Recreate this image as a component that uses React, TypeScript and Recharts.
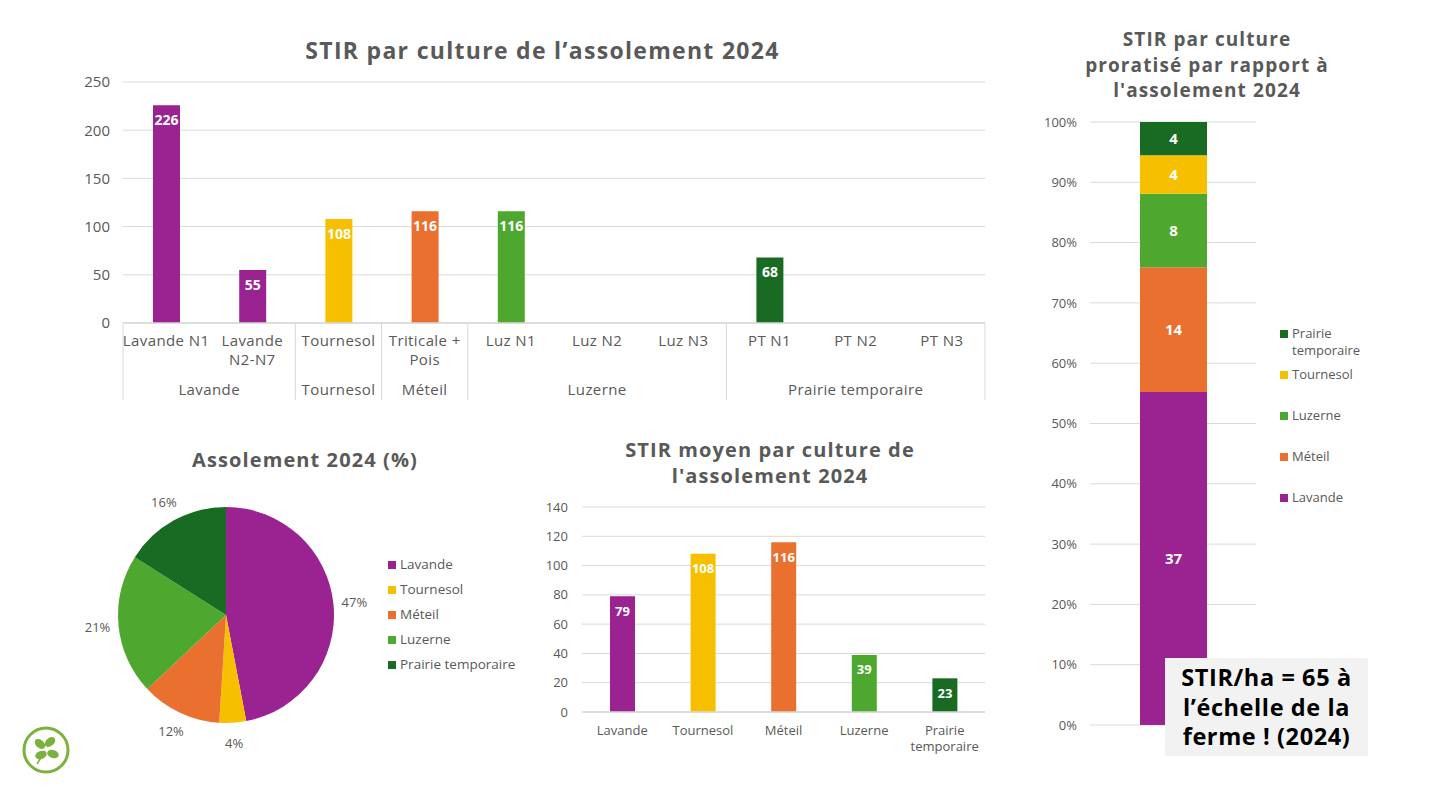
import React from "react"
import {
  Bar,
  BarChart,
  CartesianGrid,
  Cell,
  LabelList,
  Pie,
  PieChart,
  XAxis,
  YAxis,
} from "recharts"

// colours per culture
const PURPLE = "#9b2391"
const YELLOW = "#f6c000"
const ORANGE = "#e9702f"
const LGREEN = "#4ea72e"
const DGREEN = "#196b24"
const GRID = "#d9d9d9"
const TEXT = "#595959"
const FONT = "'Open Sans', sans-serif"

const cultureColors: Record<string, string> = {
  Lavande: PURPLE,
  Tournesol: YELLOW,
  "Méteil": ORANGE,
  Luzerne: LGREEN,
  "Prairie temporaire": DGREEN,
}

// STIR par culture de l'assolement 2024
const parcelleNames = [
  "Lavande N1",
  "Lavande N2-N7",
  "Tournesol",
  "Triticale + Pois",
  "Luz N1",
  "Luz N2",
  "Luz N3",
  "PT N1",
  "PT N2",
  "PT N3",
]
const parcelleGroups = [
  "Lavande",
  "Lavande",
  "Tournesol",
  "Méteil",
  "Luzerne",
  "Luzerne",
  "Luzerne",
  "Prairie temporaire",
  "Prairie temporaire",
  "Prairie temporaire",
]
const parcelleStir = [226, 55, 108, 116, 116, null, null, 68, null, null]
const parcelleTicks = [0, 50, 100, 150, 200, 250]

// Assolement 2024 (%)
const assolementCultures = ["Lavande", "Tournesol", "Méteil", "Luzerne", "Prairie temporaire"]
const assolementPct = [47, 4, 12, 21, 16]

// STIR moyen par culture
const moyenCultures = ["Lavande", "Tournesol", "Méteil", "Luzerne", "Prairie temporaire"]
const moyenStir = [79, 108, 116, 39, 23]
const moyenTicks = [0, 20, 40, 60, 80, 100, 120, 140]

// STIR proratisé (stack order bottom -> top), labels shown rounded
const prorataCultures = ["Lavande", "Méteil", "Luzerne", "Tournesol", "Prairie temporaire"]
const prorataValues = [37.1, 13.9, 8.2, 4.3, 3.7]
const prorataTicks = [0, 0.1, 0.2, 0.3, 0.4, 0.5, 0.6, 0.7, 0.8, 0.9, 1]

const parcelleData = parcelleNames.map((name, i) => ({
  name,
  group: parcelleGroups[i],
  stir: parcelleStir[i],
}))
const assolementData = assolementCultures.map((name, i) => ({ name, value: assolementPct[i] }))
const moyenData = moyenCultures.map((name, i) => ({ name, stir: moyenStir[i] }))
const prorataData = [
  Object.fromEntries([["name", "2024"], ...prorataCultures.map((c, i) => [c, prorataValues[i]])]),
]

const wrap = (s: string, max: number) => {
  const lines: string[] = []
  let cur = ""
  for (const w of s.split(" ")) {
    const next = cur ? cur + " " + w : w
    if (next.length > max && cur) {
      lines.push(cur)
      cur = w
    } else cur = next
  }
  if (cur) lines.push(cur)
  return lines
}

// top chart geometry
const TOP_W = 930
const TOP_H = 340
const TOP_MARGIN = { top: 12, right: 15, left: 0, bottom: 0 }
const TOP_YW = 53
const topBand = (TOP_W - TOP_MARGIN.left - TOP_MARGIN.right - TOP_YW) / parcelleNames.length

const ParcelleTick = (props: any) => {
  const { x, y, payload, index } = props
  const lines = wrap(String(payload.value), 11)
  const grp = parcelleGroups[index]
  const first = index === 0 || parcelleGroups[index - 1] !== grp
  const last = index === parcelleGroups.length - 1
  const span = parcelleGroups.filter((g) => g === grp).length
  return (
    <g fontFamily={FONT} fontSize={15} fill={TEXT} letterSpacing={0.4}>
      {lines.map((l, i) => (
        <text key={i} x={x} y={y + 18 + i * 19} textAnchor="middle" dy="0.35em" fill={TEXT}>
          {l}
        </text>
      ))}
      {first && (
        <>
          <line x1={x - topBand / 2} x2={x - topBand / 2} y1={y} y2={y + 77} stroke={GRID} />
          <text x={x + ((span - 1) * topBand) / 2} y={y + 67} textAnchor="middle" dy="0.35em" fill={TEXT}>
            {grp}
          </text>
        </>
      )}
      {last && <line x1={x + topBand / 2} x2={x + topBand / 2} y1={y} y2={y + 77} stroke={GRID} />}
    </g>
  )
}

const MoyenTick = (props: any) => {
  const { x, y, payload } = props
  const lines = wrap(String(payload.value), 11)
  return (
    <g>
      {lines.map((l, i) => (
        <text key={i} x={x} y={y + 18 + i * 16} textAnchor="middle" dy="0.35em" fontFamily={FONT} fontSize={13} fill={TEXT}>
          {l}
        </text>
      ))}
    </g>
  )
}

const insideTop = (offset: number, size: number) => (p: any) => {
  const vb = p.viewBox ?? p
  if (p.value == null || p.value === 0) return null
  return (
    <text
      x={vb.x + vb.width / 2}
      y={vb.y + offset}
      textAnchor="middle"
      dy="0.35em"
      fill="#ffffff"
      fontFamily={FONT}
      fontWeight={700}
      fontSize={size}
    >
      {p.value}
    </text>
  )
}

const centerLabel = (value: number) => (p: any) => {
  const vb = p.viewBox ?? p
  return (
    <text
      x={vb.x + vb.width / 2}
      y={vb.y + vb.height / 2}
      textAnchor="middle"
      dy="0.35em"
      fill="#ffffff"
      fontFamily={FONT}
      fontWeight={700}
      fontSize={15}
    >
      {Math.round(value)}
    </text>
  )
}

const RADIAN = Math.PI / 180
const pieLabel = (p: any) => {
  const r = p.outerRadius + 21
  const x = p.cx + r * Math.cos(-p.midAngle * RADIAN)
  const y = p.cy + r * Math.sin(-p.midAngle * RADIAN)
  return (
    <text x={x} y={y} textAnchor="middle" dy="0.35em" fontFamily={FONT} fontSize={13} fill={TEXT}>
      {`${p.value}%`}
    </text>
  )
}

const titleStyle: React.CSSProperties = {
  position: "absolute",
  fontFamily: FONT,
  fontWeight: 700,
  color: TEXT,
  textAlign: "center",
  whiteSpace: "nowrap",
}

const Legend = ({ items, left, top, gap, fontSize, wrapAt }: any) => (
  <div style={{ position: "absolute", left, top, fontFamily: FONT, fontSize, color: TEXT }}>
    {items.map((it: string) => (
      <div key={it} style={{ display: "flex", alignItems: "flex-start", height: gap, lineHeight: "17px" }}>
        <span
          style={{
            width: 8,
            height: 8,
            background: cultureColors[it],
            marginTop: 5,
            marginRight: 4,
            flex: "none",
          }}
        />
        <span style={{ maxWidth: wrapAt }}>{it}</span>
      </div>
    ))}
  </div>
)

export default function App() {
  return (
    <div
      style={{
        position: "absolute",
        left: 0,
        top: 0,
        width: 1437,
        height: 798,
        background: "#ffffff",
        overflow: "hidden",
      }}
    >
      {/* STIR par culture de l'assolement 2024 */}
      <div style={{ ...titleStyle, left: 70, width: 945, top: 34, fontSize: 23, letterSpacing: 1.3 }}>
        STIR par culture de l’assolement 2024
      </div>
      <div style={{ position: "absolute", left: 70, top: 70 }}>
        <BarChart width={TOP_W} height={TOP_H} data={parcelleData} margin={TOP_MARGIN}>
          <CartesianGrid vertical={false} stroke={GRID} />
          <XAxis
            dataKey="name"
            interval={0}
            tickLine={false}
            tickSize={0}
            tickMargin={0}
            axisLine={{ stroke: GRID, strokeWidth: 1.5 }}
            height={87}
            tick={ParcelleTick}
          />
          <YAxis
            domain={[0, 250]}
            ticks={parcelleTicks}
            width={TOP_YW}
            tickLine={false}
            axisLine={false}
            tickSize={0}
            tickMargin={13}
            tick={{ fill: TEXT, fontSize: 15, fontFamily: FONT }}
          />
          <Bar dataKey="stir" barSize={27} isAnimationActive={false}>
            {parcelleData.map((d) => (
              <Cell key={d.name} fill={cultureColors[d.group]} />
            ))}
            <LabelList dataKey="stir" content={insideTop(15, 14)} />
          </Bar>
        </BarChart>
      </div>

      {/* Assolement 2024 (%) */}
      <div style={{ ...titleStyle, left: 150, width: 310, top: 446, fontSize: 20, letterSpacing: 1.1 }}>
        Assolement 2024 (%)
      </div>
      <div style={{ position: "absolute", left: 80, top: 480 }}>
        <PieChart width={300} height={285}>
          <Pie
            data={assolementData}
            dataKey="value"
            nameKey="name"
            cx={141}
            cy={130}
            outerRadius={108}
            startAngle={90}
            endAngle={-270}
            stroke="none"
            label={pieLabel}
            labelLine={false}
            isAnimationActive={false}
          >
            {assolementData.map((d) => (
              <Cell key={d.name} fill={cultureColors[d.name]} />
            ))}
          </Pie>
        </PieChart>
      </div>
      <Legend items={assolementCultures} left={388} top={556} gap={25} fontSize={13.5} wrapAt={200} />

      {/* STIR moyen par culture de l'assolement 2024 */}
      <div
        style={{ ...titleStyle, left: 570, width: 400, top: 437, fontSize: 20, lineHeight: "26px", letterSpacing: 1.1 }}
      >
        STIR moyen par culture de
        <br />
        l'assolement 2024
      </div>
      <div style={{ position: "absolute", left: 520, top: 495 }}>
        <BarChart width={480} height={265} data={moyenData} margin={{ top: 12, right: 15, left: 0, bottom: 0 }}>
          <CartesianGrid vertical={false} stroke={GRID} />
          <XAxis
            dataKey="name"
            interval={0}
            tickLine={false}
            tickSize={0}
            tickMargin={0}
            axisLine={{ stroke: GRID, strokeWidth: 1.5 }}
            height={48}
            tick={MoyenTick}
          />
          <YAxis
            domain={[0, 140]}
            ticks={moyenTicks}
            width={62}
            tickLine={false}
            axisLine={false}
            tickSize={0}
            tickMargin={14}
            tick={{ fill: TEXT, fontSize: 13, fontFamily: FONT }}
          />
          <Bar dataKey="stir" barSize={25} isAnimationActive={false}>
            {moyenData.map((d) => (
              <Cell key={d.name} fill={cultureColors[d.name]} />
            ))}
            <LabelList dataKey="stir" content={insideTop(15, 13)} />
          </Bar>
        </BarChart>
      </div>

      {/* STIR par culture proratisé */}
      <div
        style={{ ...titleStyle, left: 1057, width: 300, top: 27, fontSize: 19, lineHeight: "25.5px", letterSpacing: 1.1 }}
      >
        STIR par culture
        <br />
        proratisé par rapport à
        <br />
        l'assolement 2024
      </div>
      <div style={{ position: "absolute", left: 1030, top: 110 }}>
        <BarChart
          width={240}
          height={625}
          data={prorataData}
          stackOffset="expand"
          margin={{ top: 12, right: 14, left: 0, bottom: 10 }}
        >
          <CartesianGrid vertical={false} stroke={GRID} />
          <XAxis dataKey="name" hide />
          <YAxis
            domain={[0, 1]}
            ticks={prorataTicks}
            tickFormatter={(v) => `${Math.round(v * 100)}%`}
            width={60}
            tickLine={false}
            axisLine={false}
            tickSize={0}
            tickMargin={13}
            tick={{ fill: TEXT, fontSize: 13, fontFamily: FONT }}
          />
          {prorataCultures.map((c, i) => (
            <Bar key={c} dataKey={c} stackId="a" fill={cultureColors[c]} barSize={67} isAnimationActive={false}>
              <LabelList dataKey={c} content={centerLabel(prorataValues[i])} />
            </Bar>
          ))}
        </BarChart>
      </div>
      <Legend items={[...prorataCultures].reverse()} left={1280} top={325} gap={41} fontSize={13} wrapAt={80} />

      <div
        style={{
          position: "absolute",
          left: 1165,
          top: 658,
          width: 203,
          height: 98,
          background: "#f2f2f2",
          fontFamily: FONT,
          fontWeight: 700,
          fontSize: 23.5,
          letterSpacing: 0.6,
          lineHeight: "29.5px",
          color: "#000000",
          textAlign: "center",
          paddingTop: 5,
          boxSizing: "border-box",
          whiteSpace: "nowrap",
        }}
      >
        STIR/ha = 65 à
        <br />
        l’échelle de la
        <br />
        ferme ! (2024)
      </div>

      {/* logo */}
      <svg style={{ position: "absolute", left: 20, top: 724 }} width={52} height={52}>
        <circle cx={26} cy={26} r={22} fill="none" stroke="#7bb13c" strokeWidth={3} />
        <ellipse cx={20} cy={20} rx={6} ry={4} fill="#7bb13c" transform="rotate(40 20 20)" />
        <ellipse cx={30} cy={18} rx={6} ry={4} fill="#7bb13c" transform="rotate(-40 30 18)" />
        <ellipse cx={33} cy={30} rx={6} ry={4} fill="#7bb13c" transform="rotate(20 33 30)" />
        <ellipse cx={21} cy={31} rx={6} ry={4} fill="#7bb13c" transform="rotate(-20 21 31)" />
        <line x1={25} y1={27} x2={17} y2={40} stroke="#7bb13c" strokeWidth={1.5} />
      </svg>
    </div>
  )
}
